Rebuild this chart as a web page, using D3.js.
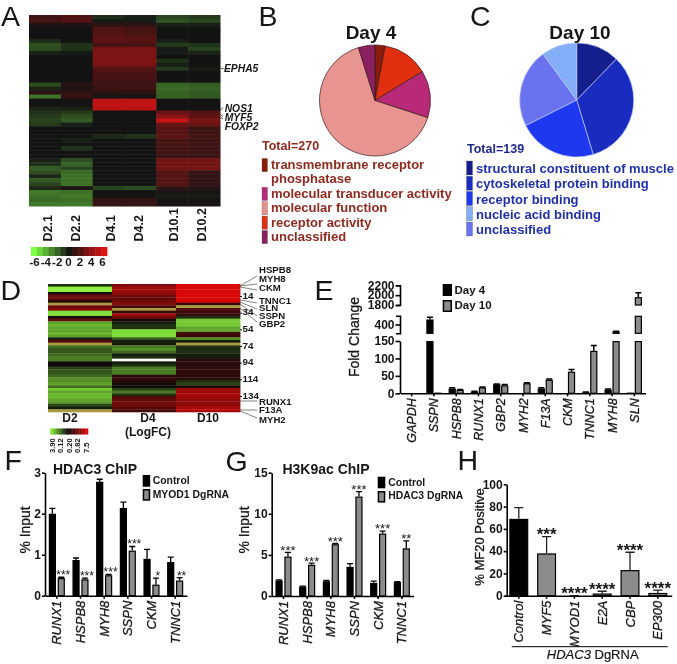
<!DOCTYPE html>
<html><head><meta charset="utf-8">
<style>html,body{margin:0;padding:0;background:#fff}svg{display:block;filter:blur(.35px)}text{font-family:"Liberation Sans",Arial,sans-serif;fill:#161616}</style>
<script src="https://d3js.org/d3.v7.min.js"></script></head><body>
<svg id="c" width="677" height="664"></svg>
<script>
// ---------- Panel A
const heatAColumns=["D2.1","D2.2","D4.1","D4.2","D10.1","D10.2"];
const heatARows=[
[1.3,1.8,-.7,-.3,-1.3,-1],[1.5,1.8,-.2,-.2,-1.6,-1.3],[.3,.3,.8,.8,-.3,-.3],[0,0,1.8,1.5,0,0],[0,0,1.8,1.5,0,0],[0,0,2.2,2,0,0],
[-.6,0,2.2,2,-.3,0],[-1.5,-.8,1.5,1.5,-1,-.8],[-1.5,-.8,3,3,-.2,-1.2],[-.4,-.2,3.2,3.2,-.2,-.4],[0,0,3.2,3.2,0,0],[0,0,3.2,3.2,-.8,0],
[0,0,3,3,-.3,0],[0,0,2,2,-1,-.2],[0,0,1.6,1.6,0,0],[0,0,1.6,1.6,0,0],[0,0,1.4,1.4,0,0],[-1.5,.6,1.3,1.3,-2,-1.8],
[-.4,.3,1.2,1.2,-2.2,-2],[.7,.9,.8,.8,-2,-1.8],[-2.5,1,-.1,0,-2,-1.8],[0,0,5,5,0,0],[0,0,5.2,5.2,0,0],[-.4,-.3,5,5,0,0],
[-.8,-1,0,0,2.5,2],[-1,-1.5,0,0,3.5,2.3],[-1.2,-1.8,0,0,5.4,3],[-1,-.3,0,0,2.5,2.6],[0,0,0,0,2,1.2],[0,0,0,0,2,1.2],
[0,0,-.5,-.8,2.2,1.5],[0,-.3,0,0,1.5,1.2],[0,0,0,0,1.5,1.3],[0,-.8,0,0,1.5,1.3],[0,0,0,0,1.4,1.2],[0,0,0,0,1.2,1.2],
[-.3,-1.5,0,0,2.8,2.8],[-.7,-2,0,0,2.8,2.8],[-1.8,-1.3,0,0,2.8,3],[-1.5,-2.2,0,0,2,1],[-.5,-2.4,0,0,1.8,.8],[-1.8,-2.4,0,0,2,1],
[-1.2,-2.4,0,0,2,.9],[-.5,.3,-1.2,-1.4,.8,.4],[-2.6,-2.4,0,0,.2,.2],[-2.4,-2.6,0,0,-.2,-.2],[-2.2,-2.4,.9,.9,0,0],[-2.6,-2.6,1,1,.2,.2]];
const heatAGenes=["EPHA5","NOS1","MYF5","FOXP2"];
const heatAScaleTicks=[-6,-4,-2,0,2,4,6];
// ---------- Panels B, C
const pieBLabels=["transmembrane receptor phosphatase","receptor activity","molecular transducer activity","molecular function","unclassified"];
const pieBValues=[8,36,37,176,13];
const pieBColors=["#8a1c0c","#e03010","#b82a78","#e89490","#8a2060"];
const legendBOrder=[0,2,3,1,4];
const pieCLabels=["structural constituent of muscle","cytoskeletal protein binding","receptor binding","unclassified","nucleic acid binding"];
const pieCValues=[17,46,31,31,14];
const pieCColors=["#141e8c","#1a2cc0","#1e38f0","#6a72f0","#84aef8"];
const legendCOrder=[0,1,2,4,3];
// ---------- Panel D
const heatDColumns=["D2","D4","D10"];
const heatDRows=[
[-1,4,7],[-6,5,7],[-6,5,7],[.5,4.5,7],[3.5,3.5,7],[3,3,7],[1,3.5,7],[8,4,1.5],[3.5,2,8],[4,8,2.5],[-5.5,1.5,1.5],[-5.5,5,1.5],
[.5,3.5,-1],[3,.5,-5],[-4,-.5,-5],[-4.5,-1,-5],[-4,-1,-4],[-4,-5.5,-4],[-4.5,-5.5,2],[-4,-5.5,1.5],[-.5,-2,-3.5],[2.5,-.5,-.5],[8,-.5,8],[-2.5,-3,-1],
[-2,-3.5,-.8],[-2,-2.5,-1],[-2.5,-.5,-.5],[-3,-1,-.5],[-3,NaN,1],[0,-.5,1.2],[.2,-1,1],[-1.5,-3,1.2],[-2,-3,1.3],[-2,-3,1.2],[-2.5,1,1],[-3.5,1.5,1],
[-3.5,.8,-1],[-4,.5,-1.5],[-2.5,0,.5],[-5,-1.5,5],[-4,-3,5],[-4.5,-1,5.5],[-4.5,2.5,5],[-4,3,4.5],[-3.5,3.5,4.5],[-1.5,3.5,4.5],[-.5,2.5,5.5],[8,2,5.5]];
const heatDRowTicks=[14,34,54,74,94,114,134];
const heatDScaleLabels=["3.90","0.12","0.20","0.82","7.5"];
const heatDGenes=["HSPB8","MYH8","CKM","TNNC1","SLN","SSPN","GBP2","RUNX1","F13A","MYH2"];
// ---------- Panel E
const eGenes=["GAPDH","SSPN","HSPB8","RUNX1","GBP2","MYH2","F13A","CKM","TNNC1","MYH8","SLN"];
const eDay4=[1,457,14,5,26,1,14,1,3,11,2];
const eDay4Err=[1,483,16,6,27,1,16,1,4,12,2];
const eDay10=[1,2,10,17,23,29,39,62,122,320,1960];
const eDay10Err=[1,2,11,18,25,30,41,68,137,322,2050];
// ---------- Panel F
const fGenes=["RUNX1","HSPB8","MYH8","SSPN","CKM","TNNC1"];
const fControl=[2.0,.87,2.78,2.14,.9,.82];
const fControlErr=[2.13,.92,2.84,2.28,1.13,.94];
const fDg=[.43,.4,.5,1.1,.27,.37];
const fDgErr=[.45,.43,.52,1.2,.43,.44];
const fStars=["***","***","***","***","*","**"];
// ---------- Panel G
const gGenes=["RUNX1","HSPB8","MYH8","SSPN","CKM","TNNC1"];
const gControl=[1.9,1.15,1.8,3.55,1.6,1.7];
const gControlErr=[1.95,1.2,1.9,3.95,1.8,1.75];
const gDg=[4.8,3.8,6.3,12.1,7.6,5.8];
const gDgErr=[5.3,4.0,6.4,12.7,7.9,6.7];
const gStars=["***","***","***","***","***","**"];
// ---------- Panel H
const hGenes=["Control","MYF5","MYOD1","E2A","CBP","EP300"];
const hValues=[69,38,0,2,23,2.5];
const hErr=[79,53,0,4,39,5];
const hStars=["","***","****","****","****","****"];

const svg=d3.select("#c");
const BLACK="#000",GRAY="#8c8c8c";
function txt(x,y,s,o={}){
  const t=svg.append("text").attr("x",x).attr("y",y).text(s)
    .attr("font-size",o.size||12).attr("font-weight",o.weight||"normal").attr("font-style",o.style||"normal")
    .attr("text-anchor",o.anchor||"start");
  if(o.fill)t.style("fill",o.fill);
  if(o.rot)t.attr("transform",`rotate(${o.rot} ${x} ${y})`);
  if(o.stroke)t.style("stroke",o.fill||"#161616").style("stroke-width",o.stroke);
  return t;
}
// panel letters
[["A",1,26],["B",258.5,26],["C",470,26],["D",0.5,300],["E",314.5,300],["F",4.5,470],["G",225.5,471],["H",457.5,470]]
  .forEach(d=>txt(d[1],d[2],d[0],{size:28.5}));

// ---- A heatmap
const colorA=d3.scaleLinear().domain([-6,0,6]).range(["#7dff45","#131313","#dd1414"]).clamp(true);
const xA=d3.scaleBand().domain(heatAColumns).range([29,220]);
const yA=d3.scaleBand().domain(d3.range(heatARows.length)).range([15,206]);
const gA=svg.append("g");
heatARows.forEach((row,i)=>gA.selectAll(null).data(row).join("rect")
  .attr("x",(d,j)=>xA(heatAColumns[j])).attr("y",yA(i)).attr("width",xA.bandwidth()+.5).attr("height",yA.bandwidth()+.5).attr("fill",d=>colorA(d)));
const groupA=d3.scalePoint().domain(["D2","D4","D10"]).range([61,187]);
heatAColumns.forEach((c,i)=>{
  const cx=groupA(heatDColumns[Math.floor(i/2)])+(i%2?14:-14);
  txt(cx+4.5,241.5,c,{size:12.5,weight:"bold",rot:-90});
});
const scaleAX=d3.scaleLinear().domain([-6,6]).range([34.5,102.5]);
const stepsA=d3.range(-6,6.01,1);
const cellA=d3.scaleBand().domain(stepsA).range([31,107]);
svg.append("g").selectAll("rect").data(stepsA).join("rect")
  .attr("x",d=>cellA(d)).attr("y",247).attr("width",cellA.bandwidth()+.4).attr("height",9).attr("fill",d=>colorA(d));
svg.append("g").selectAll("text").data(heatAScaleTicks).join("text").attr("x",d=>scaleAX(d)).attr("y",266)
  .attr("text-anchor","middle").attr("font-size",11.5).attr("font-weight","bold").text(d=>d);
const aGeneY=[72,111.7,120.7,130];
heatAGenes.forEach((g,i)=>txt(i?224.7:224,aGeneY[i],g,{size:10.3,weight:"bold",style:"italic"}));
svg.append("path").attr("d","M221 68.5H223.5M220.5 110L223 107.5M220.5 114.5L223 116.5M220.5 117L223 119").attr("stroke","#222").attr("fill","none").attr("stroke-width",.8);

// ---- pies
function pie(cx,cy,r,vals,cols,stroke){
  const arcs=d3.pie().sort(null)(vals);
  const arc=d3.arc().innerRadius(0).outerRadius(r);
  svg.append("g").attr("transform",`translate(${cx},${cy})`).selectAll("path").data(arcs).join("path")
   .attr("d",arc).attr("fill",(d,i)=>cols[i]).attr("stroke",stroke).attr("stroke-width",.7);
}
pie(375,100.5,55.5,pieBValues,pieBColors,"#3a1a1a");
pie(576.7,100,57,pieCValues,pieCColors,"#b8c4f4");
txt(371,38.5,"Day 4",{size:19,weight:"bold",anchor:"middle"});
txt(580,38.5,"Day 10",{size:19,weight:"bold",anchor:"middle"});
const red="#8f2a20",blue="#2030a8";
txt(262,150,"Total=270",{size:12.5,weight:"bold",fill:red});
txt(467,153,"Total=139",{size:12.5,weight:"bold",fill:"#1f2a8c"});
const bRows=[0,2,3,4,5],bStep=14.4,bTop=169;
legendBOrder.forEach((k,i)=>{
  const y=bTop+bRows[i]*bStep;
  svg.append("rect").attr("x",262).attr("y",y-10.5).attr("width",5.5).attr("height",13.2).attr("fill",pieBColors[k]).attr("stroke","#555").attr("stroke-width",.3);
  const lab=pieBLabels[k];
  if(k===0){txt(271,y,"transmembrane receptor",{size:13,weight:"bold",fill:red});txt(271,y+bStep,"phosphatase",{size:13,weight:"bold",fill:red});}
  else txt(271,y,lab,{size:13,weight:"bold",fill:red});
});
legendCOrder.forEach((k,i)=>{
  const y=173+i*15.25;
  svg.append("rect").attr("x",466.5).attr("y",y-12).attr("width",6).attr("height",14).attr("fill",pieCColors[k]).attr("stroke","#555").attr("stroke-width",.3);
  txt(476,y,pieCLabels[k],{size:13,weight:"bold",fill:blue});
});

// ---- D heatmap
const colorD=d3.scaleLinear().domain([-6,0,7,8]).range(["#8af03c","#0a0a0a","#d80808","#a89a40"]).clamp(true);
const xD=d3.scaleBand().domain(heatDColumns).range([48,240]);
const yD=d3.scaleBand().domain(d3.range(heatDRows.length)).range([284,412]);
const gD=svg.append("g");
heatDRows.forEach((row,i)=>gD.selectAll(null).data(row).join("rect")
  .attr("x",(d,j)=>xD(heatDColumns[j])).attr("y",yD(i)).attr("width",xD.bandwidth()+.4).attr("height",yD.bandwidth()+.3)
  .attr("fill",d=>isNaN(d)?"#fff":colorD(d)));
txt(70,422,"D2",{size:12,weight:"bold",anchor:"middle"});
txt(148,422,"D4",{size:12,weight:"bold",anchor:"middle"});
txt(208,422,"D10",{size:12,weight:"bold",anchor:"middle"});
txt(148,436,"(LogFC)",{size:12,weight:"bold",anchor:"middle"});
const stepsD=d3.range(-6,7.01,.5);
const cellD=d3.scaleBand().domain(stepsD).range([50,88]);
svg.append("g").selectAll("rect").data(stepsD).join("rect").attr("x",d=>cellD(d)).attr("y",428.5)
  .attr("width",cellD.bandwidth()+.3).attr("height",6).attr("fill",d=>colorD(d));
const xScaleD=d3.scalePoint().domain(heatDScaleLabels).range([54.5,89]);
heatDScaleLabels.forEach(l=>txt(xScaleD(l),453,l,{size:7.5,weight:"bold",rot:-90}));
const rowD=d3.scaleLinear().domain([14,134]).range([298.5,398.5]);
heatDRowTicks.forEach(t=>{
  svg.append("line").attr("x1",240).attr("x2",242).attr("y1",rowD(t)-2).attr("y2",rowD(t)-2).attr("stroke","#111");
  txt(242.5,rowD(t),t,{size:9.8,weight:"bold"});
});
const dGeneY=[273,282,291,304,311,319,327,405,413,423];
const dGeneFrom=[286,286,287,300,302,304,308,401,410,411];
const dGeneTo=[276,284,290,303,309,316,322,401,410,418];
heatDGenes.forEach((g,i)=>{
  txt(259,dGeneY[i],g,{size:9.6,weight:"bold"});
  svg.append("line").attr("x1",240).attr("x2",257).attr("y1",dGeneFrom[i]).attr("y2",dGeneTo[i]).attr("stroke","#333").attr("stroke-width",.6);
});

// ---- bar helpers
function swatch(x,y,w,h,fill){svg.append("rect").attr("x",x+.75).attr("y",y+.75).attr("width",w-1.5).attr("height",h-1.5).attr("fill",fill).attr("stroke","#000").attr("stroke-width",1.5);}
function styleAxis(g,size,sw){
  g.selectAll(".domain,line").attr("stroke","#000").attr("stroke-width",sw);
  g.selectAll("text").attr("font-size",size).attr("font-weight","bold").attr("font-family",'"Liberation Sans"');
}
function xAxis(x,y0,size){
  const g=svg.append("g").attr("transform",`translate(0,${y0})`).call(d3.axisBottom(x).tickSize(3).tickSizeOuter(0));
  g.selectAll(".domain,line").attr("stroke","#000").attr("stroke-width",1.6);
  g.selectAll("text").attr("transform","rotate(-90)").attr("text-anchor","end").attr("x",-5).attr("y",4.5).attr("dy",0)
   .attr("font-size",size).attr("font-style","italic").attr("font-family",'"Liberation Sans"').style("stroke","#161616").style("stroke-width",.3);
  return g;
}
function bar(x,w,yTop,yBot,fill){
  svg.append("rect").attr("x",x+.6).attr("y",yTop+.6).attr("width",w-1.2).attr("height",Math.max(0,yBot-yTop-.6)).attr("fill",fill).attr("stroke","#000").attr("stroke-width",1.2);
}
function errorBar(cx,y1,y2,cap,sw,col){
  svg.append("path").attr("d",`M${cx} ${y1}V${y2}M${cx-cap} ${y2}H${cx+cap}`).attr("stroke",col||"#000").attr("stroke-width",sw).attr("fill","none");
}
function grouped(genes,a,aE,b,bE,stars,xr,yr,domain,ticks,starSize,dx){
  const x=d3.scaleBand().domain(genes).range(xr);
  const sub=d3.scaleBand().domain(["a","b"]).range([-8.05,8.05]).paddingInner(.19);
  const y=d3.scaleLinear().domain(domain).range(yr);
  genes.forEach((g,i)=>{
    const c=x(g)+x.bandwidth()/2,w=sub.bandwidth();
    errorBar(c+sub("a")+w/2,y(a[i]),y(aE[i]),3,1.3);
    errorBar(c+sub("b")+w/2,y(b[i]),y(bE[i]),3,1.3);
    bar(c+sub("a"),w,y(a[i]),y(0),BLACK);
    bar(c+sub("b"),w,y(b[i]),y(0),GRAY);
    txt(c+sub("b")+w/2+dx,y(bE[i])-5+.57*starSize,stars[i],{size:starSize,anchor:"middle"});
  });
  styleAxis(svg.append("g").attr("transform",`translate(${xr[0]},0)`).call(d3.axisLeft(y).tickValues(ticks).tickSize(3).tickPadding(1).tickSizeOuter(0).tickFormat(d3.format("d"))),12,1.6);
  xAxis(x,yr[0],13);
}
// ---- E
const xE=d3.scaleBand().domain(eGenes).range([400.5,645.5]);
const subE=d3.scaleBand().domain(["d4","d10"]).range([-7.6,7.6]).paddingInner(.09);
const segE=[
  {y:d3.scaleLinear().domain([0,150]).range([393.3,341]),d:[0,150],t:[0,50,100,150],caps:0},
  {y:d3.scaleLinear().domain([300,500]).range([333.3,315.7]),d:[300,500],t:[400],caps:4},
  {y:d3.scaleLinear().domain([1800,2200]).range([305,285.3]),d:[1800,2200],t:[1800,2000,2200],caps:4}];
function segBar(x,w,v,e,fill){
  segE.forEach(s=>{
    if(v>s.d[0]){
      const top=Math.min(v,s.d[1]);
      bar(x,w,s.y(top),s.y(s.d[0]),fill);
    }
    if(e>v&&v>=s.d[0]&&v<=s.d[1]) errorBar(x+w/2,s.y(v),s.y(e),3,1.5);
  });
}
eGenes.forEach((g,i)=>{
  const c=xE(g)+xE.bandwidth()/2,w=subE.bandwidth();
  segBar(c+subE("d4"),w,eDay4[i],eDay4Err[i],BLACK);
  segBar(c+subE("d10"),w,eDay10[i],eDay10Err[i],GRAY);
});
segE.forEach(s=>styleAxis(svg.append("g").attr("transform","translate(400,0)")
  .call(d3.axisLeft(s.y).tickValues(s.t).tickSize(4.5).tickPadding(1).tickSizeOuter(s.caps)
  .tickFormat(d3.format("d"))),12,1.6));
xAxis(xE,393.3,12.5);
txt(359,337,"Fold Change",{size:14,rot:-90,anchor:"middle",stroke:.3});
swatch(442.7,284,9.3,12,BLACK);swatch(442.7,300,9.3,12,GRAY);
txt(454.5,294,"Day 4",{size:11.5,weight:"bold"});
txt(454.5,309,"Day 10",{size:11.5,weight:"bold"});
// ---- F
grouped(fGenes,fControl,fControlErr,fDg,fDgErr,fStars,[45,187],[595.7,472.7],[0,3],[0,1,2,3],12,2);
txt(95,474,"HDAC3 ChIP",{size:14,weight:"bold",anchor:"middle"});
swatch(142.7,475,7.5,11.7,BLACK);swatch(142.7,489,7.5,11.7,GRAY);
txt(152.7,484.3,"Control",{size:10.4,weight:"bold"});
txt(152.7,498,"MYOD1 DgRNA",{size:10.4,weight:"bold"});
txt(29.5,530,"% Input",{size:13.9,rot:-90,anchor:"middle",stroke:.3});
// ---- G
grouped(gGenes,gControl,gControlErr,gDg,gDgErr,gStars,[271.67,413.67],[596,472.7],[0,15],[0,5,10,15],13,0);
txt(326,474,"H3K9ac ChIP",{size:14,weight:"bold",anchor:"middle"});
swatch(377.7,476.7,7.6,11.6,BLACK);swatch(377.7,491,7.6,11.6,GRAY);
txt(388.3,485.7,"Control",{size:10.4,weight:"bold"});
txt(388.3,499.3,"HDAC3 DgRNA",{size:10.4,weight:"bold"});
txt(248.5,530,"% Input",{size:13.9,rot:-90,anchor:"middle",stroke:.3});
// ---- H
const xH=d3.scaleBand().domain(hGenes).range([504.9,671.7]);
const yH=d3.scaleLinear().domain([0,100]).range([595.7,484.3]);
hGenes.forEach((g,i)=>{
  const c=xH(g)+xH.bandwidth()/2,w=19;
  errorBar(c,yH(hValues[i]),yH(hErr[i]),4.6,1.3,"#222");
  if(hValues[i]>0) bar(c-w/2,w,yH(hValues[i]),yH(0),i?GRAY:BLACK);
  if(hStars[i]) txt(c,yH(hErr[i])-6+.57*17,hStars[i],{size:17,weight:"bold",anchor:"middle"});
});
styleAxis(svg.append("g").attr("transform","translate(506.7,0)").call(d3.axisLeft(yH).tickValues([0,20,40,60,80,100]).tickSize(3).tickPadding(1).tickSizeOuter(0)),12,1.6);
xAxis(xH,595.7,13);
txt(483.5,537,"% MF20 Positive",{size:13,rot:-90,anchor:"middle",stroke:.3});
svg.append("line").attr("x1",511.7).attr("x2",667.7).attr("y1",646.7).attr("y2",646.7).attr("stroke","#000").attr("stroke-width",1);
const cap=txt(592.7,659,"",{size:13,anchor:"middle",stroke:.2});
cap.append("tspan").attr("font-style","italic").text("HDAC3");
cap.append("tspan").text(" DgRNA");
</script></body></html>
